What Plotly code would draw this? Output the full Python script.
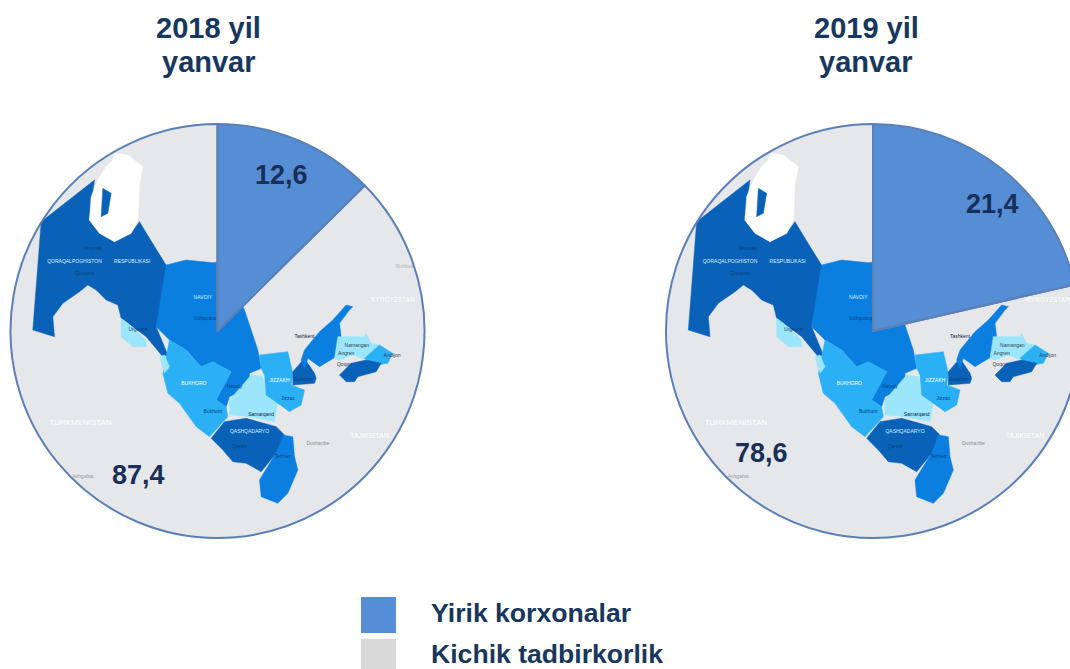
import plotly.graph_objects as go

# ---- data ----
years = [["2018 yil", "yanvar"], ["2019 yil", "yanvar"]]
categories = ["Yirik korxonalar", "Kichik tadbirkorlik"]
values_2018 = [12.6, 87.4]
values_2019 = [21.4, 78.6]

# backdrop map of Uzbekistan, in map units
qoraqalpoq = [(100,660),(125,335),(285,210),(280,250),(268,330),(300,370),(345,395),(395,370),(420,335),(450,385),(500,465),(515,490),(470,650),(505,735),(490,740),(440,680),(400,650),(365,625),(355,585),(320,570),(290,540),(265,525),(240,545),(190,580),(160,620),(165,680)]
aral = [(345,130),(385,135),(430,170),(420,220),(415,330),(395,370),(345,395),(300,370),(270,330),(275,260),(295,210),(320,170),(340,150)]
aral_lake = [(310,235),(335,250),(325,310),(305,320)]
navoiy = [(500,465),(560,450),(640,458),(660,455),(735,600),(775,720),(785,775),(750,790),(750,830),(730,840),(690,860),(680,890),(650,870),(695,785),(640,755),(605,770),(560,720),(510,690),(470,650)]
bukhoro = [(510,690),(560,720),(605,770),(640,755),(695,785),(650,870),(680,890),(685,920),(630,980),(590,950),(540,880),(505,850),(490,790),(500,745)]
xorazm = [(365,625),(385,640),(440,690),(440,710),(400,710),(365,680)]
xorazm_tail = [(480,740),(495,735),(510,770),(495,790)]
samarqand = [(690,870),(755,795),(790,800),(800,855),(835,875),(825,935),(750,920),(690,915)]
jizzax = [(780,735),(865,725),(880,790),(875,825),(915,840),(905,885),(870,905),(835,880),(800,855),(795,795),(785,775)]
sirdaryo = [(880,785),(915,745),(945,790),(950,805),(945,820),(880,825)]
toshkent = [(905,750),(915,720),(960,665),(1000,630),(1040,585),(1060,590),(1050,600),(1020,640),(1025,680),(1010,740),(960,770),(925,745),(915,775)]
namangan = [(1015,680),(1095,680),(1100,670),(1115,700),(1140,705),(1100,750),(1060,735),(1020,750),(1005,745)]
andijon = [(1140,705),(1180,730),(1165,760),(1130,765),(1095,745)]
fargona = [(1020,795),(1055,760),(1100,750),(1145,760),(1130,785),(1075,800),(1065,815),(1040,815)]
qashqadaryo = [(635,985),(675,935),(740,925),(790,940),(830,950),(855,975),(830,1030),(785,1085),(740,1060),(700,1055),(670,1020)]
surkhon = [(850,975),(880,980),(885,1040),(895,1080),(865,1150),(835,1180),(785,1160),(780,1110),(835,1020)]

DARK, MID, SKY, PALE = "#0a62b8", "#0b7fe0", "#2bb0f5", "#9be6fb"
regions = [(qoraqalpoq,DARK),(aral,"#ffffff"),(aral_lake,DARK),(navoiy,MID),(bukhoro,SKY),(xorazm,PALE),(xorazm_tail,PALE),
           (samarqand,PALE),(jizzax,SKY),(sirdaryo,DARK),(toshkent,MID),(namangan,PALE),(andijon,SKY),(fargona,DARK),
           (qashqadaryo,DARK),(surkhon,MID)]
place_names = ["QORAQALPOGHISTON","RESPUBLIKASI","NAVOIY","BUKHORO","JIZZAKH","QASHQADARYO","TURKMENISTAN","KYRGYZSTAN","TAJIKISTAN","Tashkent","Namangan","Dushanbe","Samarqand","Andijon","Muynak","Qonqirot","Urgench","Uchquduq","Navoiy","Bukhoro","Jizzax","Qarshi","Termez","Guliston","Ashgabat","Bishkek","Angren","Qoqon"]
name_x = [225,398,610,583,840,750,243,1180,1110,915,1072,955,785,1178,280,255,415,618,705,640,865,720,850,910,250,1215,1040,1035]
name_y = [455,455,563,820,812,965,940,572,978,680,706,1000,915,737,415,490,660,625,830,905,865,1010,1040,810,1100,470,732,765]
name_color = ["#d5f0ff","#d5f0ff","#d5f0ff","#ffffff","#ffffff","#d5f0ff","#ffffff","#ffffff","#ffffff","#10203a","#33404f","#8a8a8a","#10203a","#33404f","#063f80","#063f80","#063f80","#063f80","#063f80","#063f80","#063f80","#063f80","#063f80","#063f80","#a0a0a0","#b5b5b5","#33404f","#33404f"]
name_size = [5,5,5,5,5,5,8,6.5,7,5,5,5,5,5,5,5,5,5,5,5,5,5,5,5,5,5,5,5]

# ---- layout constants ----
W, H = 1090, 669
R = 207
centers = [(217.5, 331), (873, 331)]
BLUE, GREY = "#558ed5", "#d9d9d9"
EDGE = "#5b80b8"
NAVY = "#17375e"

def px(v): return v / W
def py(v): return 1 - v / H

fig = go.Figure()
axis_names = [("x","y"),("x2","y2")]
shapes, annos = [], []

for i, ((cx, cy), vals) in enumerate(zip(centers, [values_2018, values_2019])):
    dx = [px(cx-R), px(cx+R)]
    dy = [py(cy+R), py(cy-R)]
    xa, ya = axis_names[i]
    for poly, col in regions:
        xs = [p[0] for p in poly] + [poly[0][0]]
        ys = [p[1] for p in poly] + [poly[0][1]]
        fig.add_trace(go.Scatter(x=xs, y=ys, xaxis=xa, yaxis=ya, mode="lines", fill="toself",
                                 fillcolor=col, line=dict(width=0.5, color=col),
                                 hoverinfo="skip", showlegend=False))
    fig.add_trace(go.Scatter(x=name_x, y=name_y, xaxis=xa, yaxis=ya, mode="text", text=place_names,
                             textfont=dict(size=name_size, family="Liberation Sans", color=name_color),
                             hoverinfo="skip", showlegend=False))
    fig.add_trace(go.Pie(values=vals, labels=categories, sort=False, direction="clockwise", rotation=0,
                         domain=dict(x=dx, y=dy), textinfo="none", showlegend=False,
                         marker=dict(colors=[BLUE, "rgba(0,0,0,0)"], line=dict(color=EDGE, width=2))))
    ax = dict(visible=False, range=[33,1275], domain=dx, fixedrange=True)
    ay = dict(visible=False, range=[1284,42], domain=dy, fixedrange=True)
    sfx = "" if i == 0 else "2"
    fig.update_layout(**{"xaxis"+sfx: dict(ax, anchor="y"+sfx), "yaxis"+sfx: dict(ay, anchor="x"+sfx)})
    shapes.append(dict(type="circle", xref="paper", yref="paper", layer="below",
                       x0=dx[0], x1=dx[1], y0=dy[0], y1=dy[1],
                       fillcolor="#e6e7ea", line=dict(width=0)))

# titles
for lines, x in zip(years, [208.5, 866]):
    for line, y in zip(lines, [28, 62]):
        annos.append(dict(text="<b>%s</b>" % line, x=px(x), y=py(y), xref="paper", yref="paper",
                          showarrow=False, xanchor="center", yanchor="middle",
                          font=dict(family="Liberation Sans", size=29, color=NAVY)))

# value labels
label_vals = values_2018 + values_2019
label_xy = [(281,175),(138,475),(992,204),(761,453)]
for v, (x, y) in zip(label_vals, label_xy):
    annos.append(dict(text="<b>%s</b>" % ("%.1f" % v).replace(".", ","), x=px(x), y=py(y), xref="paper", yref="paper",
                      showarrow=False, xanchor="center", yanchor="middle",
                      font=dict(family="Liberation Sans", size=27, color="#1a2f57")))

# legend
for cat, col, (y0, y1), ty in zip(categories, [BLUE, GREY], [(597,633),(639,669)], [613,654]):
    shapes.append(dict(type="rect", xref="paper", yref="paper", x0=px(361), x1=px(396), y0=py(y1), y1=py(y0),
                       fillcolor=col, line=dict(width=0)))
    annos.append(dict(text="<b>%s</b>" % cat, x=px(429), y=py(ty), xref="paper", yref="paper",
                      showarrow=False, xanchor="left", yanchor="middle",
                      font=dict(family="Liberation Sans", size=26.6, color=NAVY)))

fig.update_layout(width=W, height=H, margin=dict(l=0,r=0,t=0,b=0), autosize=False,
                  paper_bgcolor="#ffffff", plot_bgcolor="rgba(0,0,0,0)", shapes=shapes, annotations=annos)

fig.write_html("out.html", config=dict(displayModeBar=False),
               post_script="document.body.style.margin='0';document.documentElement.style.overflow='hidden';document.body.style.overflow='hidden';")
